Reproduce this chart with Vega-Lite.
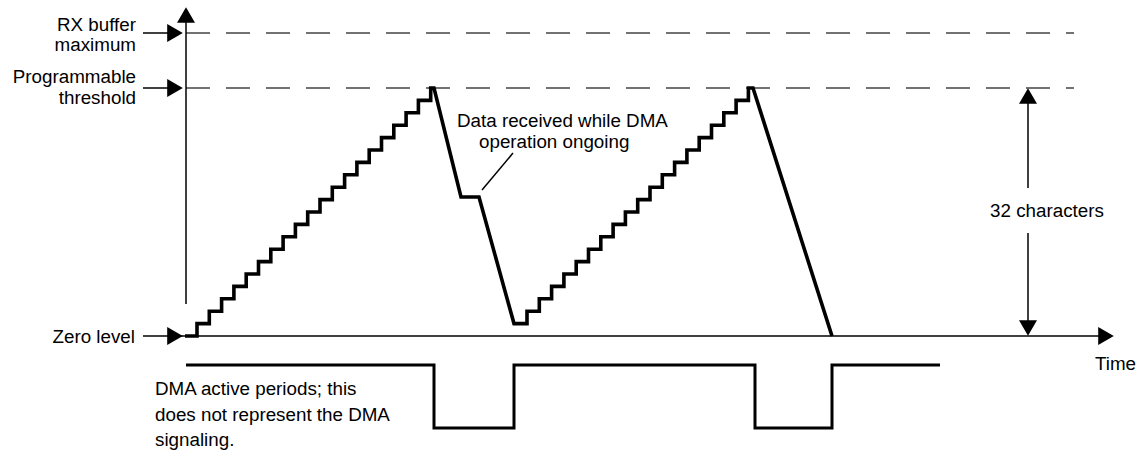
{
  "$schema": "https://vega.github.io/schema/vega-lite/v6.json",
  "width": 1137,
  "height": 451,
  "autosize": "none",
  "padding": 0,
  "background": "white",
  "config": {"view": {"stroke": null}},
  "datasets": {
    "profile": [
      {"i":0,"x":185,"y":336},{"i":1,"x":197,"y":336},{"i":2,"x":197,"y":323.6},
      {"i":3,"x":209.3,"y":323.6},{"i":4,"x":209.3,"y":311.2},
      {"i":5,"x":221.6,"y":311.2},{"i":6,"x":221.6,"y":298.8},
      {"i":7,"x":233.9,"y":298.8},{"i":8,"x":233.9,"y":286.4},
      {"i":9,"x":246.2,"y":286.4},{"i":10,"x":246.2,"y":274},
      {"i":11,"x":258.5,"y":274},{"i":12,"x":258.5,"y":261.6},
      {"i":13,"x":270.8,"y":261.6},{"i":14,"x":270.8,"y":249.2},
      {"i":15,"x":283.1,"y":249.2},{"i":16,"x":283.1,"y":236.8},
      {"i":17,"x":295.4,"y":236.8},{"i":18,"x":295.4,"y":224.4},
      {"i":19,"x":307.7,"y":224.4},{"i":20,"x":307.7,"y":212},
      {"i":21,"x":320,"y":212},{"i":22,"x":320,"y":199.6},
      {"i":23,"x":332.3,"y":199.6},{"i":24,"x":332.3,"y":187.2},
      {"i":25,"x":344.6,"y":187.2},{"i":26,"x":344.6,"y":174.8},
      {"i":27,"x":356.9,"y":174.8},{"i":28,"x":356.9,"y":162.4},
      {"i":29,"x":369.2,"y":162.4},{"i":30,"x":369.2,"y":150},
      {"i":31,"x":381.5,"y":150},{"i":32,"x":381.5,"y":137.6},
      {"i":33,"x":393.8,"y":137.6},{"i":34,"x":393.8,"y":125.2},
      {"i":35,"x":406.1,"y":125.2},{"i":36,"x":406.1,"y":112.8},
      {"i":37,"x":418.4,"y":112.8},{"i":38,"x":418.4,"y":100.4},
      {"i":39,"x":430.7,"y":100.4},{"i":40,"x":430.7,"y":88},
      {"i":41,"x":434,"y":88},{"i":42,"x":461,"y":197},{"i":43,"x":479,"y":197},
      {"i":44,"x":514,"y":323.6},{"i":45,"x":527,"y":323.6},
      {"i":46,"x":527,"y":311.2},
      {"i":47,"x":539.3,"y":311.2},{"i":48,"x":539.3,"y":298.8},
      {"i":49,"x":551.6,"y":298.8},{"i":50,"x":551.6,"y":286.4},
      {"i":51,"x":563.9,"y":286.4},{"i":52,"x":563.9,"y":274},
      {"i":53,"x":576.2,"y":274},{"i":54,"x":576.2,"y":261.6},
      {"i":55,"x":588.5,"y":261.6},{"i":56,"x":588.5,"y":249.2},
      {"i":57,"x":600.8,"y":249.2},{"i":58,"x":600.8,"y":236.8},
      {"i":59,"x":613.1,"y":236.8},{"i":60,"x":613.1,"y":224.4},
      {"i":61,"x":625.4,"y":224.4},{"i":62,"x":625.4,"y":212},
      {"i":63,"x":637.7,"y":212},{"i":64,"x":637.7,"y":199.6},
      {"i":65,"x":650,"y":199.6},{"i":66,"x":650,"y":187.2},
      {"i":67,"x":662.3,"y":187.2},{"i":68,"x":662.3,"y":174.8},
      {"i":69,"x":674.6,"y":174.8},{"i":70,"x":674.6,"y":162.4},
      {"i":71,"x":686.9,"y":162.4},{"i":72,"x":686.9,"y":150},
      {"i":73,"x":699.2,"y":150},{"i":74,"x":699.2,"y":137.6},
      {"i":75,"x":711.5,"y":137.6},{"i":76,"x":711.5,"y":125.2},
      {"i":77,"x":723.8,"y":125.2},{"i":78,"x":723.8,"y":112.8},
      {"i":79,"x":736.1,"y":112.8},{"i":80,"x":736.1,"y":100.4},
      {"i":81,"x":748.4,"y":100.4},{"i":82,"x":748.4,"y":88},
      {"i":83,"x":753,"y":88},{"i":84,"x":832,"y":336}
    ],
    "dma": [
      {"i":0,"x":186,"y":365},{"i":1,"x":434,"y":365},{"i":2,"x":434,"y":428},
      {"i":3,"x":514,"y":428},{"i":4,"x":514,"y":365},{"i":5,"x":755,"y":365},
      {"i":6,"x":755,"y":428},{"i":7,"x":832,"y":428},{"i":8,"x":832,"y":365},
      {"i":9,"x":940,"y":365}
    ],
    "thin": [
      {"x":186,"y":22,"x2":186,"y2":304},
      {"x":143,"y":336,"x2":1100,"y2":336},
      {"x":143,"y":33,"x2":168,"y2":33},
      {"x":143,"y":88,"x2":168,"y2":88},
      {"x":1028,"y":103,"x2":1028,"y2":188},
      {"x":1028,"y":233,"x2":1028,"y2":321},
      {"x":482,"y":190,"x2":513,"y2":153}
    ],
    "dashed": [
      {"x":186,"y":33,"x2":1074,"y2":33},
      {"x":186,"y":88,"x2":1074,"y2":88}
    ],
    "arrows": [
      {"x":186,"y":15,"shape":"triangle-up"},
      {"x":175,"y":33,"shape":"triangle-right"},
      {"x":175,"y":88,"shape":"triangle-right"},
      {"x":175,"y":336,"shape":"triangle-right"},
      {"x":1106,"y":336,"shape":"triangle-right"},
      {"x":1028,"y":96,"shape":"triangle-up"},
      {"x":1028,"y":328,"shape":"triangle-down"}
    ],
    "textRight": [
      {"x":136,"y":30.5,"t":"RX buffer"},
      {"x":136,"y":51,"t":"maximum"},
      {"x":136,"y":83,"t":"Programmable"},
      {"x":136,"y":103.5,"t":"threshold"},
      {"x":135,"y":343,"t":"Zero level"}
    ],
    "textLeft": [
      {"x":1095,"y":370,"t":"Time"},
      {"x":457,"y":126.5,"t":"Data received while DMA"},
      {"x":479,"y":148,"t":"operation ongoing"},
      {"x":155,"y":394.5,"t":"DMA active periods; this"},
      {"x":155,"y":420.5,"t":"does not represent the DMA"},
      {"x":155,"y":446,"t":"signaling."}
    ],
    "textCenter": [
      {"x":1047,"y":217,"t":"32 characters"}
    ]
  },
  "layer": [
    {
      "data": {"name": "dashed"},
      "mark": {"type": "rule", "color": "#444444", "strokeWidth": 1.3, "strokeDash": [24, 16]},
      "encoding": {
        "x": {"field": "x", "type": "quantitative", "scale": {"domain": [0, 1137], "nice": false, "zero": false}, "axis": null},
        "y": {"field": "y", "type": "quantitative", "scale": {"domain": [0, 451], "nice": false, "zero": false, "reverse": true}, "axis": null},
        "x2": {"field": "x2"},
        "y2": {"field": "y2"}
      }
    },
    {
      "data": {"name": "thin"},
      "mark": {"type": "rule", "color": "#000000", "strokeWidth": 1.5},
      "encoding": {
        "x": {"field": "x", "type": "quantitative", "axis": null},
        "y": {"field": "y", "type": "quantitative", "axis": null},
        "x2": {"field": "x2"},
        "y2": {"field": "y2"}
      }
    },
    {
      "data": {"name": "profile"},
      "mark": {"type": "line", "color": "#000000", "strokeWidth": 3.6, "strokeJoin": "miter"},
      "encoding": {
        "x": {"field": "x", "type": "quantitative", "axis": null},
        "y": {"field": "y", "type": "quantitative", "axis": null},
        "order": {"field": "i", "type": "quantitative"}
      }
    },
    {
      "data": {"name": "dma"},
      "mark": {"type": "line", "color": "#000000", "strokeWidth": 3, "strokeJoin": "miter"},
      "encoding": {
        "x": {"field": "x", "type": "quantitative", "axis": null},
        "y": {"field": "y", "type": "quantitative", "axis": null},
        "order": {"field": "i", "type": "quantitative"}
      }
    },
    {
      "data": {"name": "arrows"},
      "mark": {"type": "point", "filled": true, "color": "#000000", "opacity": 1, "size": 324, "strokeWidth": 0},
      "encoding": {
        "x": {"field": "x", "type": "quantitative", "axis": null},
        "y": {"field": "y", "type": "quantitative", "axis": null},
        "shape": {"field": "shape", "type": "nominal", "scale": null, "legend": null}
      }
    },
    {
      "data": {"name": "textRight"},
      "mark": {"type": "text", "align": "right", "baseline": "alphabetic", "font": "Liberation Sans", "fontSize": 18.8, "color": "#000000"},
      "encoding": {
        "x": {"field": "x", "type": "quantitative", "axis": null},
        "y": {"field": "y", "type": "quantitative", "axis": null},
        "text": {"field": "t"}
      }
    },
    {
      "data": {"name": "textLeft"},
      "mark": {"type": "text", "align": "left", "baseline": "alphabetic", "font": "Liberation Sans", "fontSize": 18.8, "color": "#000000"},
      "encoding": {
        "x": {"field": "x", "type": "quantitative", "axis": null},
        "y": {"field": "y", "type": "quantitative", "axis": null},
        "text": {"field": "t"}
      }
    },
    {
      "data": {"name": "textCenter"},
      "mark": {"type": "text", "align": "center", "baseline": "alphabetic", "font": "Liberation Sans", "fontSize": 18.8, "color": "#000000"},
      "encoding": {
        "x": {"field": "x", "type": "quantitative", "axis": null},
        "y": {"field": "y", "type": "quantitative", "axis": null},
        "text": {"field": "t"}
      }
    }
  ]
}
